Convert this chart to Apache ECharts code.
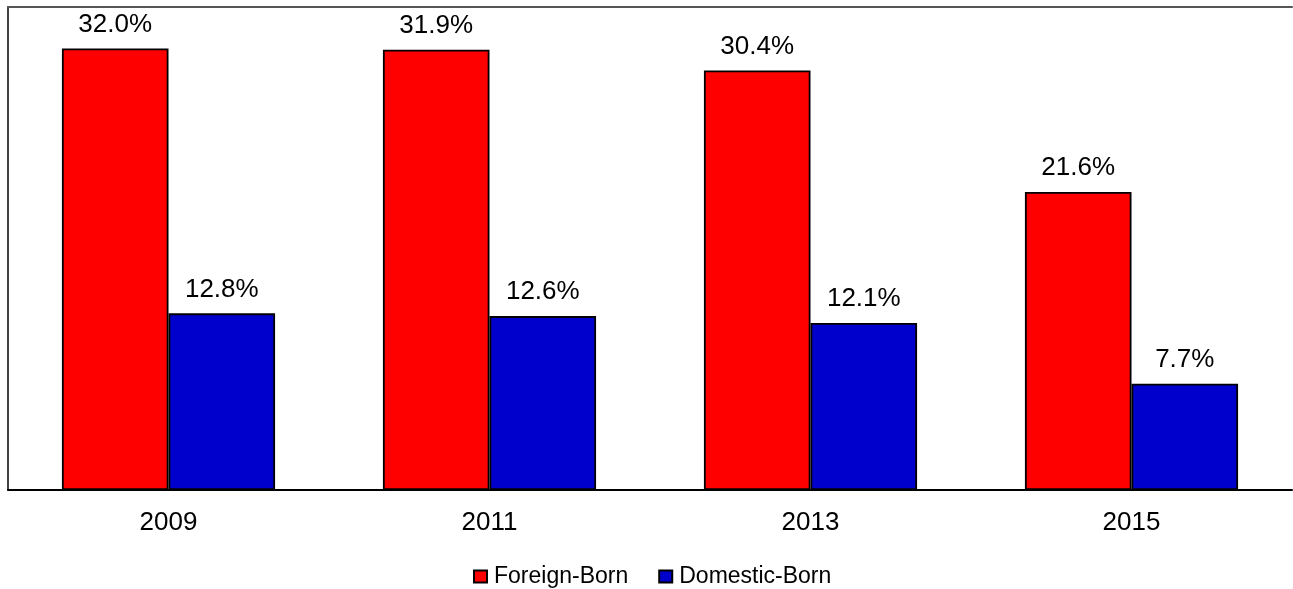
<!DOCTYPE html>
<html>
<head>
<meta charset="utf-8">
<script src="https://cdn.jsdelivr.net/npm/echarts@6/dist/echarts.min.js"></script>
<style>
  html, body { margin: 0; padding: 0; background: #fff; }
  #chart { width: 1293px; height: 589px; }
</style>
</head>
<body>
<div id="chart"></div>
<script>
// Years shown on the category axis
const years = ['2009', '2011', '2013', '2015'];
// Share (%) for each group per year
const foreignBorn = [32.0, 31.9, 30.4, 21.6];
const domesticBorn = [12.8, 12.6, 12.1, 7.7];
const seriesNames = ['Foreign-Born', 'Domestic-Born'];

const font = 'Arial, "Liberation Sans", sans-serif';

const valueLabel = {
  show: true, position: 'top', distance: 11,
  fontFamily: font, fontSize: 26, color: '#000',
  formatter: p => p.value.toFixed(1) + '%'
};

const chart = echarts.init(document.getElementById('chart'));
chart.setOption({
  animation: false,
  backgroundColor: '#ffffff',
  grid: { left: 8, right: 1, top: 7, bottom: 99 },
  legend: {
    top: 565,
    left: 473,
    padding: 0,
    itemWidth: 13,
    itemHeight: 12,
    itemGap: 30,
    icon: 'rect',
    textStyle: { fontFamily: font, fontSize: 23, color: '#000', padding: [0, 0, 0, 2] },
    data: seriesNames
  },
  xAxis: [{
    type: 'category',
    data: years,
    axisLine: { lineStyle: { color: '#000', width: 2 } },
    axisTick: { show: false },
    axisLabel: { fontFamily: font, fontSize: 26, color: '#000', margin: 20 }
  }, {
    type: 'category',
    data: years,
    position: 'top',
    axisLine: { lineStyle: { color: '#555', width: 2 } },
    axisTick: { show: false },
    axisLabel: { show: false }
  }],
  yAxis: {
    type: 'value',
    min: 0,
    max: 35,
    axisLine: { show: true, lineStyle: { color: '#000', width: 1.5 } },
    axisTick: { show: false },
    axisLabel: { show: false },
    splitLine: { show: false }
  },
  series: [
    {
      name: seriesNames[0],
      type: 'bar',
      data: foreignBorn,
      barGap: '0%',
      barCategoryGap: '33.6%',
      itemStyle: { color: '#ff0000', borderColor: '#000', borderWidth: 1.8 },
      label: valueLabel
    },
    {
      name: seriesNames[1],
      type: 'bar',
      data: domesticBorn,
      itemStyle: { color: '#0000cc', borderColor: '#000', borderWidth: 1.8 },
      label: valueLabel
    }
  ]
});
</script>
</body>
</html>
